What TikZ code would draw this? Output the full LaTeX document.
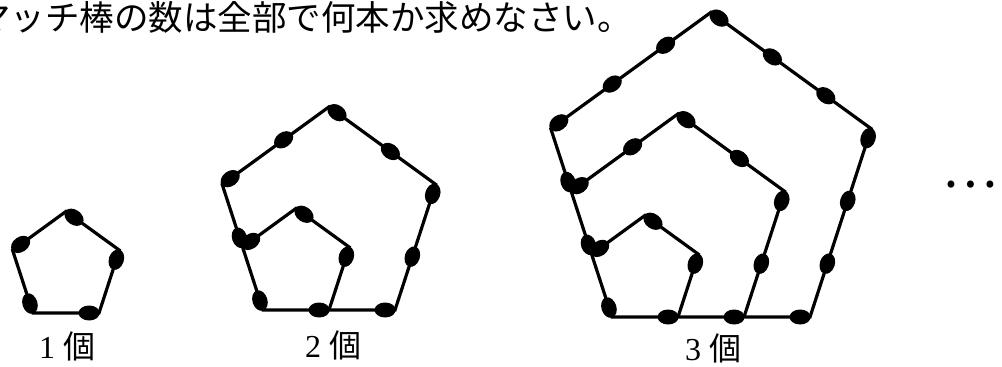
\documentclass[tikz,border=0pt]{standalone}
\usepackage{fontspec}
\setmainfont{Liberation Serif}
\newfontfamily\jp{Noto Sans CJK JP}
\usetikzlibrary{shapes.geometric,calc}
\tikzset{
  match/.style={line width=3.2pt, line join=miter},
  head/.style={ellipse, fill=black, draw=none, inner sep=0pt, minimum width=21pt, minimum height=15pt},
  lbl/.style={font=\fontsize{32}{36}\selectfont, inner sep=0pt},
}
\newcommand{\mheads}[3]{%
  \foreach \j in {1,...,#3}{%
    \pgfmathsetmacro\hp{(\j-1+0.15)/#3}%
    \path (#1) -- (#2) node[head, sloped, pos=\hp] (#1-#2-h\j) {};%
  }%
}
\newcommand{\matchfig}[4]{%
  \foreach \k in {1,...,#4}{%
    \pgfmathsetmacro\L{\k*66}%
    \coordinate (#1-\k-LL) at (#2,#3);
    \coordinate (#1-\k-LR) at ({#2+\L},#3);
    \coordinate (#1-\k-UR) at ({#2+1.309*\L},{#3-0.951*\L});
    \coordinate (#1-\k-T) at ({#2+0.5*\L},{#3-1.539*\L});
    \coordinate (#1-\k-UL) at ({#2-0.309*\L},{#3-0.951*\L});
    \ifnum\k=#4\relax
      \draw[match] (#1-\k-UL) -- (#1-\k-T) -- (#1-\k-UR) -- (#1-\k-LR) -- (#1-\k-LL) -- cycle;
    \else
      \draw[match] (#1-\k-UL) -- (#1-\k-T) -- (#1-\k-UR) -- (#1-\k-LR);
    \fi
  }%
  \foreach \k in {1,...,#4}{%
    \mheads{#1-\k-UL}{#1-\k-T}{\k}
    \mheads{#1-\k-T}{#1-\k-UR}{\k}
    \mheads{#1-\k-UR}{#1-\k-LR}{\k}
  }%
  \mheads{#1-#4-LR}{#1-#4-LL}{#4}
  \mheads{#1-#4-LL}{#1-#4-UL}{#4}
}
\begin{document}
\begin{tikzpicture}[x=1pt,y=-1pt]
\useasboundingbox (0,0) rectangle (1002,367);
\clip (0,0) rectangle (1002,367);
\node[anchor=base west, inner sep=0pt, font=\jp\fontsize{34.5}{40}\selectfont] (title) at (-24,30) {マッチ棒の数は全部で何本か求めなさい。};
\matchfig{a}{33}{313}{1}
\matchfig{b}{263}{310}{2}
\matchfig{c}{612}{317}{3}
\node[lbl] (lab1) at (67,346) {1 {\jp 個}};
\node[lbl] (lab2) at (333,345) {2 {\jp 個}};
\node[lbl] (lab3) at (713,348) {3 {\jp 個}};
\node[inner sep=0pt, font=\jp\fontsize{52}{56}\selectfont] (dots) at (970,185) {…};
\end{tikzpicture}
\end{document}
